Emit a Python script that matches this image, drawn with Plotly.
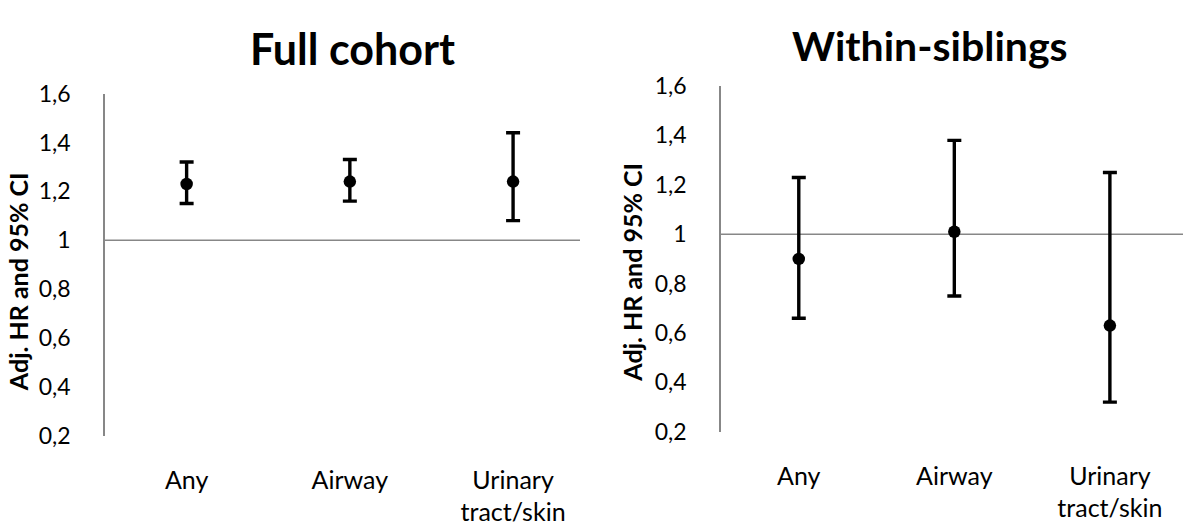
import plotly.graph_objects as go

categories = ["Any", "Airway", "Urinary<br>tract/skin"]

full_hr = [1.23, 1.24, 1.24]
full_lo = [1.15, 1.16, 1.08]
full_hi = [1.32, 1.33, 1.44]

sib_hr = [0.90, 1.01, 0.63]
sib_lo = [0.66, 0.75, 0.32]
sib_hi = [1.23, 1.38, 1.25]

y_ticks = [0.2, 0.4, 0.6, 0.8, 1.0, 1.2, 1.4, 1.6]

W, H = 1183, 531
FONT = "Lato"
AXIS_GRAY = "#878787"

fig = go.Figure()

def add_series(hr, lo, hi, xa, ya):
    fig.add_trace(go.Scatter(
        x=list(range(len(categories))), y=hr, mode="markers",
        xaxis=xa, yaxis=ya,
        marker=dict(color="black", size=12.5),
        error_y=dict(type="data", symmetric=False,
                     array=[h - v for h, v in zip(hi, hr)],
                     arrayminus=[v - l for v, l in zip(hr, lo)],
                     color="black", thickness=3.4, width=7),
        showlegend=False, hoverinfo="skip"))

add_series(full_hr, full_lo, full_hi, "x", "y")
add_series(sib_hr, sib_lo, sib_hi, "x2", "y2")

def px_x(p):
    return p / W

def px_y(p):
    return 1 - p / H

xcommon = dict(tickmode="array", tickvals=list(range(len(categories))),
               ticktext=categories, showgrid=False, zeroline=False,
               showline=False, ticks="", ticklabelstandoff=27,
               tickfont=dict(family=FONT, size=25, color="black"))
ycommon = dict(range=[0.2, 1.6], tickmode="array", tickvals=y_ticks,
               showgrid=False, zeroline=False, showline=True,
               linecolor=AXIS_GRAY, linewidth=1.5, ticks="",
               ticklabelstandoff=28,
               tickfont=dict(family=FONT, size=23, color="black"))

fig.update_layout(
    width=W, height=H, margin=dict(l=0, r=0, t=0, b=0),
    paper_bgcolor="white", plot_bgcolor="white",
    separators=",.",
    xaxis=dict(domain=[px_x(105), px_x(580)], range=[-0.5, 2.41],
               anchor="y", **xcommon),
    yaxis=dict(domain=[px_y(444), px_y(83)], anchor="x", **ycommon),
    xaxis2=dict(domain=[px_x(721), 1.0], range=[-0.5, 2.47],
                anchor="y2", **xcommon),
    yaxis2=dict(domain=[px_y(440), px_y(75)], anchor="x2", **ycommon),
    shapes=[
        dict(type="line", xref="x domain", yref="y", x0=0, x1=1, y0=1, y1=1,
             line=dict(color=AXIS_GRAY, width=1.5), layer="below"),
        dict(type="line", xref="x2 domain", yref="y2", x0=0, x1=1, y0=1, y1=1,
             line=dict(color=AXIS_GRAY, width=1.5), layer="below"),
    ],
    annotations=[
        dict(text="<b>Full cohort</b>", x=px_x(352), y=px_y(35), xref="paper",
             yref="paper", showarrow=False, xanchor="center", yanchor="middle",
             font=dict(family=FONT, size=43, color="black")),
        dict(text="<b>Within-siblings</b>", x=px_x(930), y=px_y(32), xref="paper",
             yref="paper", showarrow=False, xanchor="center", yanchor="middle",
             font=dict(family=FONT, size=41, color="black")),
        dict(text="<b>Adj. HR and 95% CI</b>", x=px_x(18), y=px_y(282),
             xref="paper", yref="paper", showarrow=False, textangle=-90,
             xanchor="center", yanchor="middle",
             font=dict(family=FONT, size=25, color="black")),
        dict(text="<b>Adj. HR and 95% CI</b>", x=px_x(632), y=px_y(272),
             xref="paper", yref="paper", showarrow=False, textangle=-90,
             xanchor="center", yanchor="middle",
             font=dict(family=FONT, size=25, color="black")),
    ],
)

fig.write_html("out.html",
               config={"displayModeBar": False},
               post_script="document.body.style.margin='0';"
                           "document.body.style.overflow='hidden';")
